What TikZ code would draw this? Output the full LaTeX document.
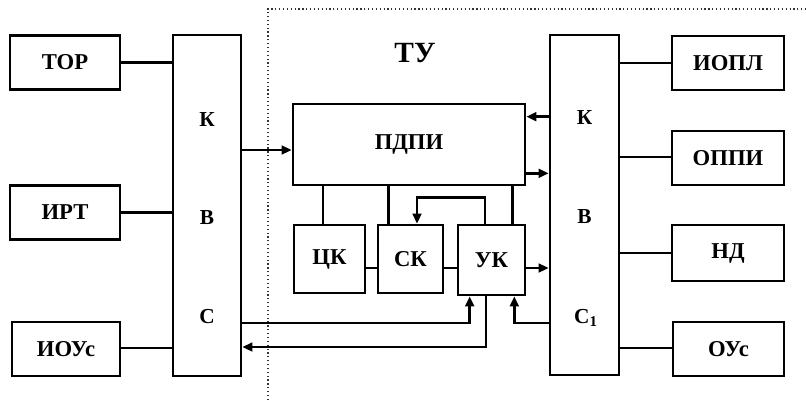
\documentclass[tikz,border=0pt]{standalone}
\usepackage{fontspec}
\setmainfont{Liberation Serif}
\usetikzlibrary{arrows.meta, calc}

\begin{document}
\begin{tikzpicture}[
    x=0.75pt, y=-0.75pt,
    >={Triangle[length=7.5pt, width=6.5pt]},
    block/.style={
        rectangle, draw=black, line width=2pt, fill=white,
        minimum width=#1, minimum height=54*0.75pt, inner sep=0pt,
        font=\fontsize{17}{19}\selectfont\bfseries
    },
    block/.default={110*0.75pt},
    letter/.style={
        font=\fontsize{16}{18}\selectfont\bfseries, inner sep=1pt
    },
    link/.style={
        -, line width=2pt, black
    },
    arrow/.style={
        ->, line width=2pt, black
    },
    frame/.style={
        line width=0.9pt, dotted, black!80
    }
]
\useasboundingbox (0,0) rectangle (806,400);

% ── Dotted boundary of the TU ──
\coordinate (tuleft) at (268,400);
\coordinate (tutop) at (806,9);
\draw[frame] (tuleft) |- (tutop);
\node[font=\fontsize{22}{24}\selectfont\bfseries] (tu) at (415,53) {ТУ};

% ── Left column ──
\node[block] (tor) at (65,62.5) {ТОР};
\node[block] (irt) at (65,212.5) {ИРТ};
\node[block=108*0.75pt] (iouc) at (66,349) {ИОУс};

% ── Left channel K-B-C ──
\node[block=68*0.75pt, minimum height=341*0.75pt] (kvs) at (207,205.5) {};
\node[letter] (kvsk) at (207,120) {К};
\node[letter] (kvsv) at (207,218) {В};
\node[letter] (kvsc) at (207,317) {С};

% ── Right channel K-B-C1 ──
\node[block=69*0.75pt, minimum height=340*0.75pt] (kvsr) at (584.5,205) {};
\node[letter] (kvsrk) at (584.5,118) {К};
\node[letter] (kvsrv) at (584.5,217) {В};
\node[letter] (kvsrc) at (586,318) {С\textsubscript{1}};

% ── Right column ──
\node[block=112*0.75pt] (iopl) at (728,63) {ИОПЛ};
\node[block=112*0.75pt] (oppi) at (728,158) {ОППИ};
\node[block=112*0.75pt, minimum height=56*0.75pt] (nd) at (728,253) {НД};
\node[block=111*0.75pt] (ouc) at (728.5,349) {ОУс};

% ── TU internals ──
\node[block=232*0.75pt, minimum height=81*0.75pt] (pdpi) at (409,144.5) {ПДПИ};
\node[block=71*0.75pt, minimum height=68*0.75pt] (ck) at (329.5,259) {ЦК};
\node[block=65*0.75pt, minimum height=68*0.75pt] (sk) at (410.5,259) {СК};
\node[block=67*0.75pt, minimum height=70*0.75pt] (uk) at (491.5,260) {УК};

% ── Links to the channels ──
\draw[link] (tor) -- (tor -| kvs.west);
\draw[link] (irt) -- (irt -| kvs.west);
\draw[link] ($(iouc.east)+(0,-1)$) -- ($(iouc.east -| kvs.west)+(0,-1)$);
\draw[link] (iopl -| kvsr.east) -- (iopl);
\draw[link] ($(oppi.west -| kvsr.east)+(0,-1)$) -- ($(oppi.west)+(0,-1)$);
\draw[link] (nd -| kvsr.east) -- (nd);
\draw[link] ($(ouc.west -| kvsr.east)+(0,-1)$) -- ($(ouc.west)+(0,-1)$);

% ── PDPI <-> channels ──
\draw[arrow] ($(kvs.east)+(0,-55.5)$) -- ($(pdpi.west)+(0,5.5)$);
\draw[arrow] ($(pdpi.north east -| kvsr.west)+(0,14)$) -- ($(pdpi.north east)+(0,14)$);
\draw[arrow] ($(pdpi.south east)+(0,-13)$) -- ($(pdpi.south east -| kvsr.west)+(0,-13)$);

% ── PDPI to the counters ──
\draw[link] ($(ck.north)+(-6.5,0)$) coordinate (ckt) -- (ckt |- pdpi.south);
\draw[link] ($(sk.north west)+(12,0)$) coordinate (skt) -- (skt |- pdpi.south);
\draw[link] ($(uk.north east)+(-14,0)$) coordinate (ukt) -- (ukt |- pdpi.south);
\draw[arrow] ($(uk.north)+(-6.5,0)$) -- ++(0,-26) -| ($(sk.north)+(6.5,0)$);

% ── Between the counters ──
\draw[link] ($(ck.east)+(0,9)$) -- ($(sk.west)+(0,9)$);
\draw[link] ($(sk.east)+(0,9)$) -- ($(uk.west)+(0,8)$);
\draw[arrow] ($(uk.east)+(0,8)$) -- ($(uk.east -| kvsr.west)+(0,8)$);

% ── UK <-> channels, below ──
\draw[arrow] ($(kvs.east)+(0,117.5)$) -| ($(uk.south west)+(13,0)$);
\draw[arrow] ($(uk.south)+(-5.5,0)$) |- ($(kvs.east)+(0,141.5)$);
\draw[arrow] ($(kvsr.west)+(0,118)$) -| ($(uk.south east)+(-12,0)$);

\end{tikzpicture}
\end{document}
